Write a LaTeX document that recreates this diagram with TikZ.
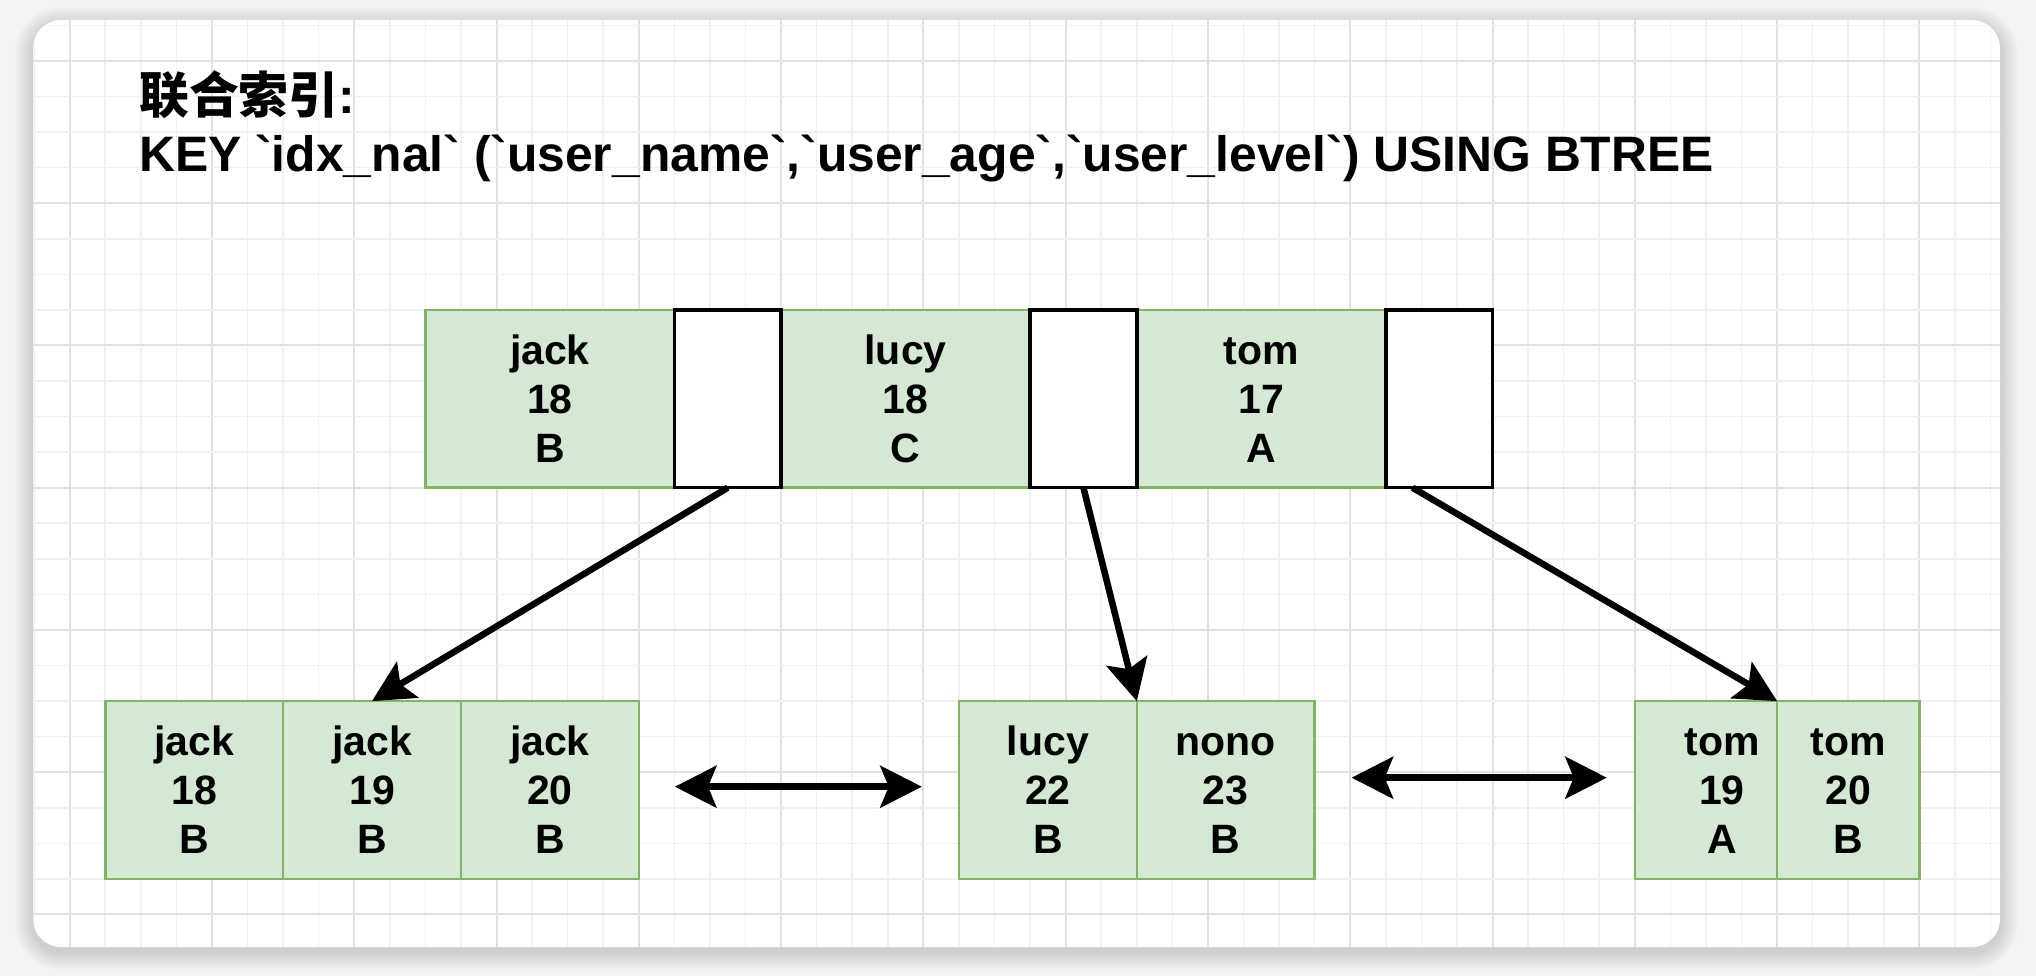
\documentclass[tikz,border=0pt]{standalone}
\usepackage{fontspec}
\setmainfont{Liberation Sans}[Ligatures=TeXOff]
\newfontfamily\cjk{Noto Sans CJK SC}
\usetikzlibrary{arrows.meta,calc}
\definecolor{gfill}{HTML}{D5E8D4}
\definecolor{gstroke}{HTML}{82B366}
\definecolor{gridminor}{HTML}{F1F1F1}
\definecolor{gridmajor}{HTML}{E1E1E1}
\definecolor{pagebg}{HTML}{F3F3F3}
\newcommand\bq{\char96\relax}
\newcommand\cellrows[3]{\vphantom{k}#1\\#2\\\vphantom{k}#3}
\begin{document}
\begin{tikzpicture}[x=1pt,y=-1pt,
  cellbase/.style={rectangle, anchor=north west, inner sep=0pt, outer sep=0pt,
    minimum height=177.8pt, align=center, font=\fontsize{41}{49}\selectfont\bfseries},
  gcell/.style={cellbase, draw=gstroke, fill=gfill, line width=2.5pt},
  wcell/.style={cellbase, draw=black, fill=white, line width=3.5pt, minimum width=106.7pt},
  celltext/.style={inner sep=0pt, align=center, font=\fontsize{41}{49}\selectfont\bfseries},
  titletext/.style={anchor=base west, inner sep=0pt, font=\fontsize{49.8}{58}\selectfont\bfseries},
  arr/.style={line width=6.5pt, -{Stealth[length=42pt,width=43pt,inset=9pt,line width=0pt]}},
  darr/.style={line width=6.5pt, {Stealth[length=42pt,width=43pt,inset=9pt,line width=0pt]}-{Stealth[length=42pt,width=43pt,inset=9pt,line width=0pt]}}
]
\useasboundingbox (0,0) rectangle (2036,976);
\fill[pagebg] (0,0) rectangle (2036,976);
% soft shadow of the card
\foreach \s in {1,...,18}{
  \pgfmathsetmacro\rc{28+\s}
  \fill[black, opacity=0.0075, rounded corners=\rc pt] ({33-\s},{20-\s+5}) rectangle ({2000+\s},{947+\s+5});
}
\fill[white, rounded corners=28pt] (33,20) rectangle (2000,947);
% grid
\begin{scope}
  \clip[rounded corners=28pt] (33,20) rectangle (2000,947);
  \foreach \i in {-1,...,55}{
    \pgfmathsetmacro\xx{69.7+35.57*\i}
    \pgfmathtruncatemacro\mm{mod(\i+40,4)}
    \ifnum\mm=0
      \draw[gridmajor, line width=2pt] (\xx,0) -- (\xx,976);
    \else
      \draw[gridminor, line width=1.6pt] (\xx,0) -- (\xx,976);
    \fi
  }
  \foreach \j in {-2,...,25}{
    \pgfmathsetmacro\yy{61+35.56*\j}
    \pgfmathtruncatemacro\mm{mod(\j+40,4)}
    \ifnum\mm=0
      \draw[gridmajor, line width=2pt] (0,\yy) -- (2036,\yy);
    \else
      \draw[gridminor, line width=1.6pt] (0,\yy) -- (2036,\yy);
    \fi
  }
\end{scope}
% title
\node[titletext] (title1) at (139,114) {{\cjk 联合索引}:};
\node[titletext] (title2) at (139,172) {KEY \bq idx\_nal\bq{} (\bq user\_name\bq,\bq user\_age\bq,\bq user\_level\bq) USING BTREE};
% top row
\node[gcell, minimum width=249pt] (t1) at (425.4,309.92) {\cellrows{jack}{18}{B}};
\node[gcell, minimum width=249pt] (t2) at (781.1,309.92) {\cellrows{lucy}{18}{C}};
\node[gcell, minimum width=249pt] (t3) at (1136.8,309.92) {\cellrows{tom}{17}{A}};
\node[wcell] (w1) at (674.39,309.92) {};
\node[wcell] (w2) at (1030.09,309.92) {};
\node[wcell] (w3) at (1385.79,309.92) {};
% bottom row
\node[gcell, minimum width=177.85pt] (b1) at (105.27,701.08) {\cellrows{jack}{18}{B}};
\node[gcell, minimum width=177.85pt] (b2) at (283.12,701.08) {\cellrows{jack}{19}{B}};
\node[gcell, minimum width=177.85pt] (b3) at (460.97,701.08) {\cellrows{jack}{20}{B}};
\node[gcell, minimum width=177.85pt] (m1) at (958.95,701.08) {\cellrows{lucy}{22}{B}};
\node[gcell, minimum width=177.85pt] (m2) at (1136.8,701.08) {\cellrows{nono}{23}{B}};
\node[gcell, minimum width=142.28pt] (r1) at (1634.78,701.08) {};
\node[celltext] (r1text) at ($(r1.center)+(16,0)$) {\cellrows{tom}{19}{A}};
\node[gcell, minimum width=142.28pt] (r2) at (1777.06,701.08) {\cellrows{tom}{20}{B}};
% connectors
\coordinate (w3out) at ($(w3.south west)!0.25!(w3.south east)$);
\draw[arr] (w1.south) -- (b2.north);
\draw[arr] (w2.south) -- (m1.north east);
\draw[arr] (w3out) -- (r1.north east);
\coordinate (da1) at (675,786.7);
\coordinate (da2) at (921.7,786.7);
\coordinate (db1) at (1351.7,777.7);
\coordinate (db2) at (1606.7,777.7);
\draw[darr] (da1) -- (da2);
\draw[darr] (db1) -- (db2);
\end{tikzpicture}
\end{document}
